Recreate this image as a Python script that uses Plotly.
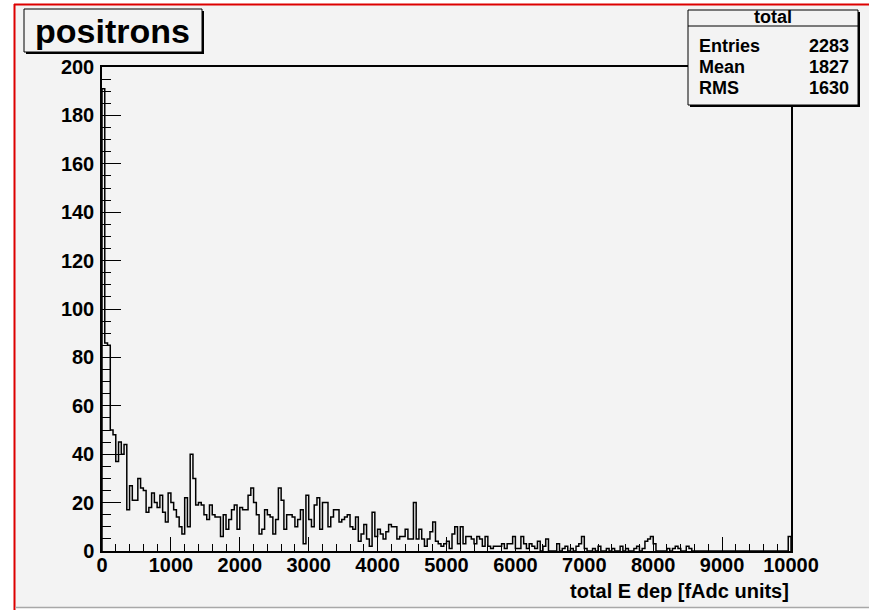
import numpy as np
import plotly.graph_objects as go

# ---- data (histogram: 250 bins over 0..10000) ----
x_min = 0
x_max = 10000
n_bins = 250
counts = [
    191, 86, 85, 50, 48, 37, 45, 40, 44, 17,
    27, 21, 21, 30, 26, 25, 16, 18, 24, 20,
    18, 23, 16, 12, 24, 20, 17, 14, 10, 7,
    22, 10, 40, 30, 19, 20, 19, 15, 13, 19,
    15, 14, 14, 6, 15, 9, 13, 17, 19, 9,
    18, 17, 17, 23, 26, 20, 15, 7, 9, 17,
    15, 14, 7, 13, 26, 21, 9, 15, 15, 14,
    10, 13, 17, 3, 23, 13, 10, 19, 22, 9,
    20, 20, 10, 14, 17, 17, 12, 13, 14, 15,
    10, 9, 14, 4, 7, 11, 5, 2, 16, 6,
    9, 7, 5, 8, 11, 10, 10, 5, 6, 6,
    9, 5, 5, 20, 5, 9, 5, 2, 5, 8,
    12, 4, 3, 2, 3, 4, 1, 7, 10, 3,
    10, 3, 6, 6, 5, 3, 6, 5, 2, 6,
    2, 1, 2, 2, 2, 3, 1, 3, 3, 6,
    1, 1, 6, 3, 1, 3, 2, 1, 4, 0,
    2, 5, 0, 0, 0, 3, 0, 1, 2, 0,
    1, 0, 2, 3, 6, 1, 0, 0, 1, 0,
    2, 0, 0, 1, 0, 1, 0, 0, 2, 0,
    1, 0, 0, 1, 2, 0, 1, 4, 5, 6,
    3, 0, 0, 0, 0, 1, 0, 1, 2, 1,
    0, 0, 2, 1, 0, 0, 0, 0, 0, 0,
    0, 0, 0, 0, 0, 0, 0, 0, 0, 0,
    0, 0, 0, 0, 0, 0, 0, 0, 0, 0,
    0, 0, 0, 0, 0, 0, 0, 0, 0, 6,
]
title_text = "positrons"
stats_name = "total"
stats_labels = ["Entries", "Mean", "RMS"]
stats_values = ["2283", "1827", "1630"]
x_title = "total E dep [fAdc units]"
y_range = [0, 200]

# ---- geometry ----
W, H = 869, 610
L, R, T, B = 102, 791, 67, 551
PW, PH = R - L, B - T


def px(xp):
    return (xp - L) / PW


def py(yp):
    return (B - yp) / PH


edges = np.linspace(x_min, x_max, n_bins + 1)
xs = np.concatenate([[edges[0]], edges[:-1], [edges[-1]]])
ys = np.concatenate([[0], np.array(counts, dtype=float), [0]])

BG = "#f3f3f3"
FONT = "Liberation Sans"

fig = go.Figure()
fig.add_trace(go.Scatter(
    x=xs, y=ys, mode="lines", line=dict(color="black", width=1.5, shape="hv"),
    hoverinfo="skip", showlegend=False,
))

shapes = []
# canvas
shapes.append(dict(type="rect", xref="paper", yref="paper", layer="below",
                   x0=px(14.5), x1=px(W + 2), y0=py(4.5), y1=py(607.5),
                   fillcolor=BG, line=dict(width=0)))
shapes.append(dict(type="line", xref="paper", yref="paper",
                   x0=px(14), x1=px(W + 2), y0=py(4.5), y1=py(4.5),
                   line=dict(color="#dd0000", width=2)))
shapes.append(dict(type="line", xref="paper", yref="paper",
                   x0=px(14.5), x1=px(14.5), y0=py(4), y1=py(H + 2),
                   line=dict(color="#dd0000", width=2)))
shapes.append(dict(type="line", xref="paper", yref="paper",
                   x0=px(15), x1=px(W + 2), y0=py(607.5), y1=py(607.5),
                   line=dict(color="#a8a8a8", width=1.5)))


def pave(x0, y0, x1, y1, sh=3):
    shapes.append(dict(type="rect", xref="paper", yref="paper", layer="above",
                       x0=px(x0 + sh), x1=px(x1 + sh), y0=py(y0 + sh), y1=py(y1 + sh),
                       fillcolor="black", line=dict(width=0)))
    shapes.append(dict(type="rect", xref="paper", yref="paper", layer="above",
                       x0=px(x0), x1=px(x1), y0=py(y0), y1=py(y1),
                       fillcolor=BG, line=dict(color="black", width=1)))


pave(24, 9, 202, 52, sh=2)
pave(688, 10, 858, 105, sh=2)
shapes.append(dict(type="line", xref="paper", yref="paper", layer="above",
                   x0=px(688), x1=px(858), y0=py(26), y1=py(26),
                   line=dict(color="black", width=1)))

ann = []
ann.append(dict(text=title_text, xref="paper", yref="paper", x=px(112), y=py(31),
                xanchor="center", yanchor="middle", showarrow=False,
                font=dict(family=FONT, size=34, color="black", weight="bold")))
ann.append(dict(text=stats_name, xref="paper", yref="paper", x=px(773), y=py(17.5),
                xanchor="center", yanchor="middle", showarrow=False,
                font=dict(family=FONT, size=18, color="black", weight="bold")))
row_y = [46, 67, 88]
for lab, val, yy in zip(stats_labels, stats_values, row_y):
    ann.append(dict(text=lab, xref="paper", yref="paper", x=px(697), y=py(yy),
                    xanchor="left", yanchor="middle", showarrow=False,
                    font=dict(family=FONT, size=18, color="black", weight="bold")))
    ann.append(dict(text=val, xref="paper", yref="paper", x=px(851), y=py(yy),
                    xanchor="right", yanchor="middle", showarrow=False,
                    font=dict(family=FONT, size=18, color="black", weight="bold")))
ann.append(dict(text=x_title, xref="paper", yref="paper", x=1.0, y=py(591),
                xanchor="right", yanchor="middle", showarrow=False,
                font=dict(family=FONT, size=20, color="black", weight="bold")))

tickfont = dict(family=FONT, size=20, color="black", weight="bold")
fig.update_layout(
    width=W, height=H, autosize=False,
    margin=dict(l=L, r=W - R, t=T, b=H - B, pad=0),
    paper_bgcolor="white", plot_bgcolor=BG,
    shapes=shapes, annotations=ann, showlegend=False,
    xaxis=dict(range=[x_min, x_max], showgrid=False, zeroline=False,
               showline=True, linecolor="black", linewidth=1.5, mirror=True,
               ticks="inside", ticklen=14, tickwidth=1, tickcolor="black",
               dtick=1000, tick0=0, tickformat="d", tickfont=tickfont,
               ticklabelstandoff=-5,
               minor=dict(ticks="inside", ticklen=7, dtick=200, tickcolor="black",
                          tickwidth=1, showgrid=False)),
    yaxis=dict(range=y_range, showgrid=False, zeroline=False,
               showline=True, linecolor="black", linewidth=1.5, mirror=True,
               ticks="inside", ticklen=19, tickwidth=1, tickcolor="black",
               dtick=20, tick0=0, tickformat="d", tickfont=tickfont,
               ticklabelstandoff=2,
               minor=dict(ticks="inside", ticklen=9, dtick=5, tickcolor="black",
                          tickwidth=1, showgrid=False)),
)

fig.write_html("out.html", config={"displayModeBar": False},
               post_script="document.body.style.margin='0';document.body.style.padding='0';")
